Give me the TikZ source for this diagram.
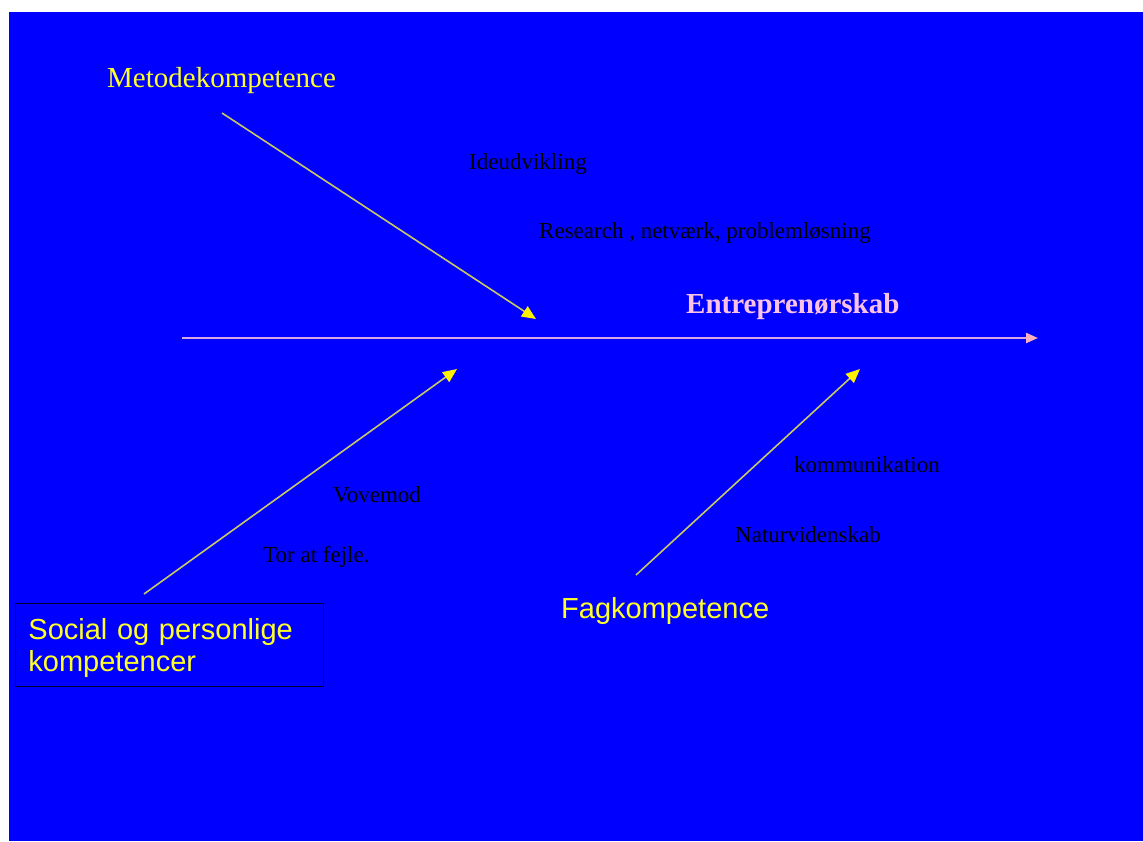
\documentclass[tikz,border=0pt]{standalone}
\usepackage{fontspec}
\setmainfont{Liberation Serif}
\setsansfont{Liberation Sans}
\usepackage{xcolor}
\usetikzlibrary{arrows.meta,positioning}
\definecolor{slideblue}{RGB}{0,0,255}
\definecolor{causeyellow}{RGB}{255,255,40}
\definecolor{boneline}{RGB}{200,200,100}
\definecolor{spinepink}{RGB}{215,165,225}
\definecolor{tippink}{RGB}{250,175,190}
\definecolor{effectpink}{RGB}{250,195,230}

\begin{document}
\begin{tikzpicture}[x=1pt,y=-1pt,
    every node/.style={inner sep=0pt,anchor=base west},
    cause/.style={font=\fontsize{29}{32}\selectfont,text=causeyellow},
    factor/.style={font=\fontsize{23}{26}\selectfont,text=black},
    bone/.style={draw=boneline,line width=1.6pt,-{Triangle[length=14pt,width=12pt,color=yellow]}}]
    % Background
    \useasboundingbox (0,0) rectangle (1143,841);
    \fill[slideblue] (9,12) rectangle (1143,841);

    % Spine
    \coordinate (spinestart) at (182,338);
    \coordinate (spineend) at (1038,338);
    \draw[draw=spinepink,line width=2.2pt,-{Triangle[length=12pt,width=10pt,color=tippink]}] (spinestart) -- (spineend);
    \node[font=\fontsize{29}{32}\selectfont\bfseries,text=effectpink] (effect) at (686,313) {Entreprenørskab};

    % Metodekompetence
    \node[cause] (metode) at (107,87) {Metodekompetence};
    \coordinate (metodestart) at (222,113);
    \coordinate (metodeend) at (536,319);
    \draw[bone] (metodestart) -- (metodeend);
    \node[factor] (ideer) at (469,169) {Ideudvikling};
    \node[factor] (research) at (539,238) {Research , netværk, problemløsning};

    % Social og personlige kompetencer
    \node[cause,font=\sffamily\fontsize{29}{32}\selectfont,draw=black!80!blue,line width=0.9pt,anchor=north west,
          minimum width=308pt,minimum height=83pt,text width=282pt,inner xsep=13pt,align=left] (social) at (15,603)
          {\rule{0pt}{27pt}Social og personlige\\kompetencer};
    \coordinate (socialstart) at (144,594);
    \coordinate (socialend) at (457,369);
    \draw[bone] (socialstart) -- (socialend);
    \node[factor] (vovemod) at (333,502) {Vovemod};
    \node[factor] (fejle) at (263,562) {Tor at fejle.};

    % Fagkompetence
    \node[cause,font=\sffamily\fontsize{29}{32}\selectfont] (fag) at (561,618) {Fagkompetence};
    \coordinate (fagstart) at (636,575);
    \coordinate (fagend) at (860,369);
    \draw[bone] (fagstart) -- (fagend);
    \node[factor] (komm) at (794,472) {kommunikation};
    \node[factor] (natur) at (735,542) {Naturvidenskab};
\end{tikzpicture}
\end{document}
